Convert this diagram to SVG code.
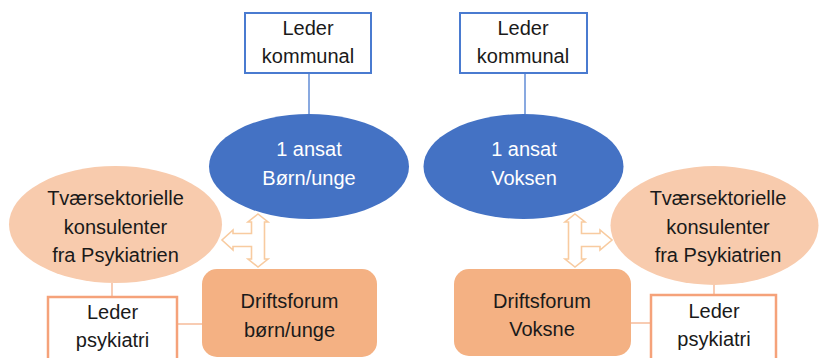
<svg xmlns="http://www.w3.org/2000/svg" width="819" height="358" viewBox="0 0 819 358">
<style>
text{font-family:"Liberation Sans",Arial,sans-serif;font-size:20px;text-anchor:middle;fill:#1a1a1a}
.w{fill:#ffffff}
.bbox{fill:#ffffff;stroke:#4A7BD0;stroke-width:2}
.pbox{fill:#ffffff;stroke:#F5A27A;stroke-width:2.5}
.blue{fill:#4472C4}
.peach{fill:#F8CBAD}
.drift{fill:#F4B183}
.bl{stroke:#4A7BD0;stroke-width:1.3;fill:none}
.pl{stroke:#F5B08A;stroke-width:1.3;fill:none}
.arr{fill:#ffffff;stroke:#F8CBA0;stroke-width:1.6;stroke-linejoin:miter}
</style>
<g id="connectors">
<line class="bl" x1="309" y1="73" x2="309" y2="114"/>
<line class="bl" x1="525" y1="73" x2="525" y2="114"/>
<line class="pl" x1="112" y1="283" x2="112" y2="297"/>
<line class="pl" x1="177" y1="324" x2="202" y2="324"/>
<line class="pl" x1="714" y1="285" x2="714" y2="295"/>
<line class="pl" x1="631" y1="323" x2="651" y2="323"/>
<path class="arr" d="M258,214 L268,222 L264.5,222 L264.5,259 L268,259 L258,267 L248,259 L251.5,259 L251.5,246.5 L233,246.5 L233,250 L222,240 L233,230 L233,233.5 L251.5,233.5 L251.5,222 L248,222 Z"/>
<path class="arr" d="M575,214 L585,222 L581.5,222 L581.5,233.5 L600,233.5 L600,230 L612,240 L600,250 L600,246.5 L581.5,246.5 L581.5,259 L585,259 L575,267 L565,259 L568.5,259 L568.5,222 L565,222 Z"/>
</g>
<g id="leder-kommunal-left">
<rect class="bbox" x="245" y="13" width="126" height="60"/>
<text x="308" y="35">Leder</text>
<text x="308" y="63">kommunal</text>
</g>
<g id="leder-kommunal-right">
<rect class="bbox" x="460" y="13" width="127" height="60"/>
<text x="523" y="35">Leder</text>
<text x="523" y="63">kommunal</text>
</g>
<g id="ansat-born">
<ellipse class="blue" cx="309" cy="166.5" rx="100" ry="52.5"/>
<text class="w" x="309" y="156">1 ansat</text>
<text class="w" x="309" y="185">Børn/unge</text>
</g>
<g id="ansat-voksen">
<ellipse class="blue" cx="523.5" cy="166.5" rx="100" ry="52.5"/>
<text class="w" x="524" y="156">1 ansat</text>
<text class="w" x="524" y="185">Voksen</text>
</g>
<g id="tvaer-left">
<ellipse class="peach" cx="115.5" cy="224.5" rx="106.5" ry="58.5"/>
<text x="115.5" y="205">Tværsektorielle</text>
<text x="115.5" y="233.5">konsulenter</text>
<text x="115.5" y="262">fra Psykiatrien</text>
</g>
<g id="tvaer-right">
<ellipse class="peach" cx="714.5" cy="225.5" rx="104" ry="59.5"/>
<text x="718" y="205">Tværsektorielle</text>
<text x="718" y="233.5">konsulenter</text>
<text x="718" y="262">fra Psykiatrien</text>
</g>
<g id="driftsforum-born">
<rect class="drift" x="202" y="269" width="175" height="88" rx="15"/>
<text x="289.5" y="308">Driftsforum</text>
<text x="289.5" y="337">børn/unge</text>
</g>
<g id="driftsforum-voksne">
<rect class="drift" x="454" y="269" width="177" height="87" rx="15"/>
<text x="542" y="308">Driftsforum</text>
<text x="542" y="336">Voksne</text>
</g>
<g id="leder-psykiatri-left">
<rect class="pbox" x="48" y="297" width="129" height="70"/>
<text x="112.5" y="319">Leder</text>
<text x="112.5" y="347">psykiatri</text>
</g>
<g id="leder-psykiatri-right">
<rect class="pbox" x="651" y="295" width="125" height="72"/>
<text x="714" y="318">Leder</text>
<text x="714" y="346">psykiatri</text>
</g>
</svg>
